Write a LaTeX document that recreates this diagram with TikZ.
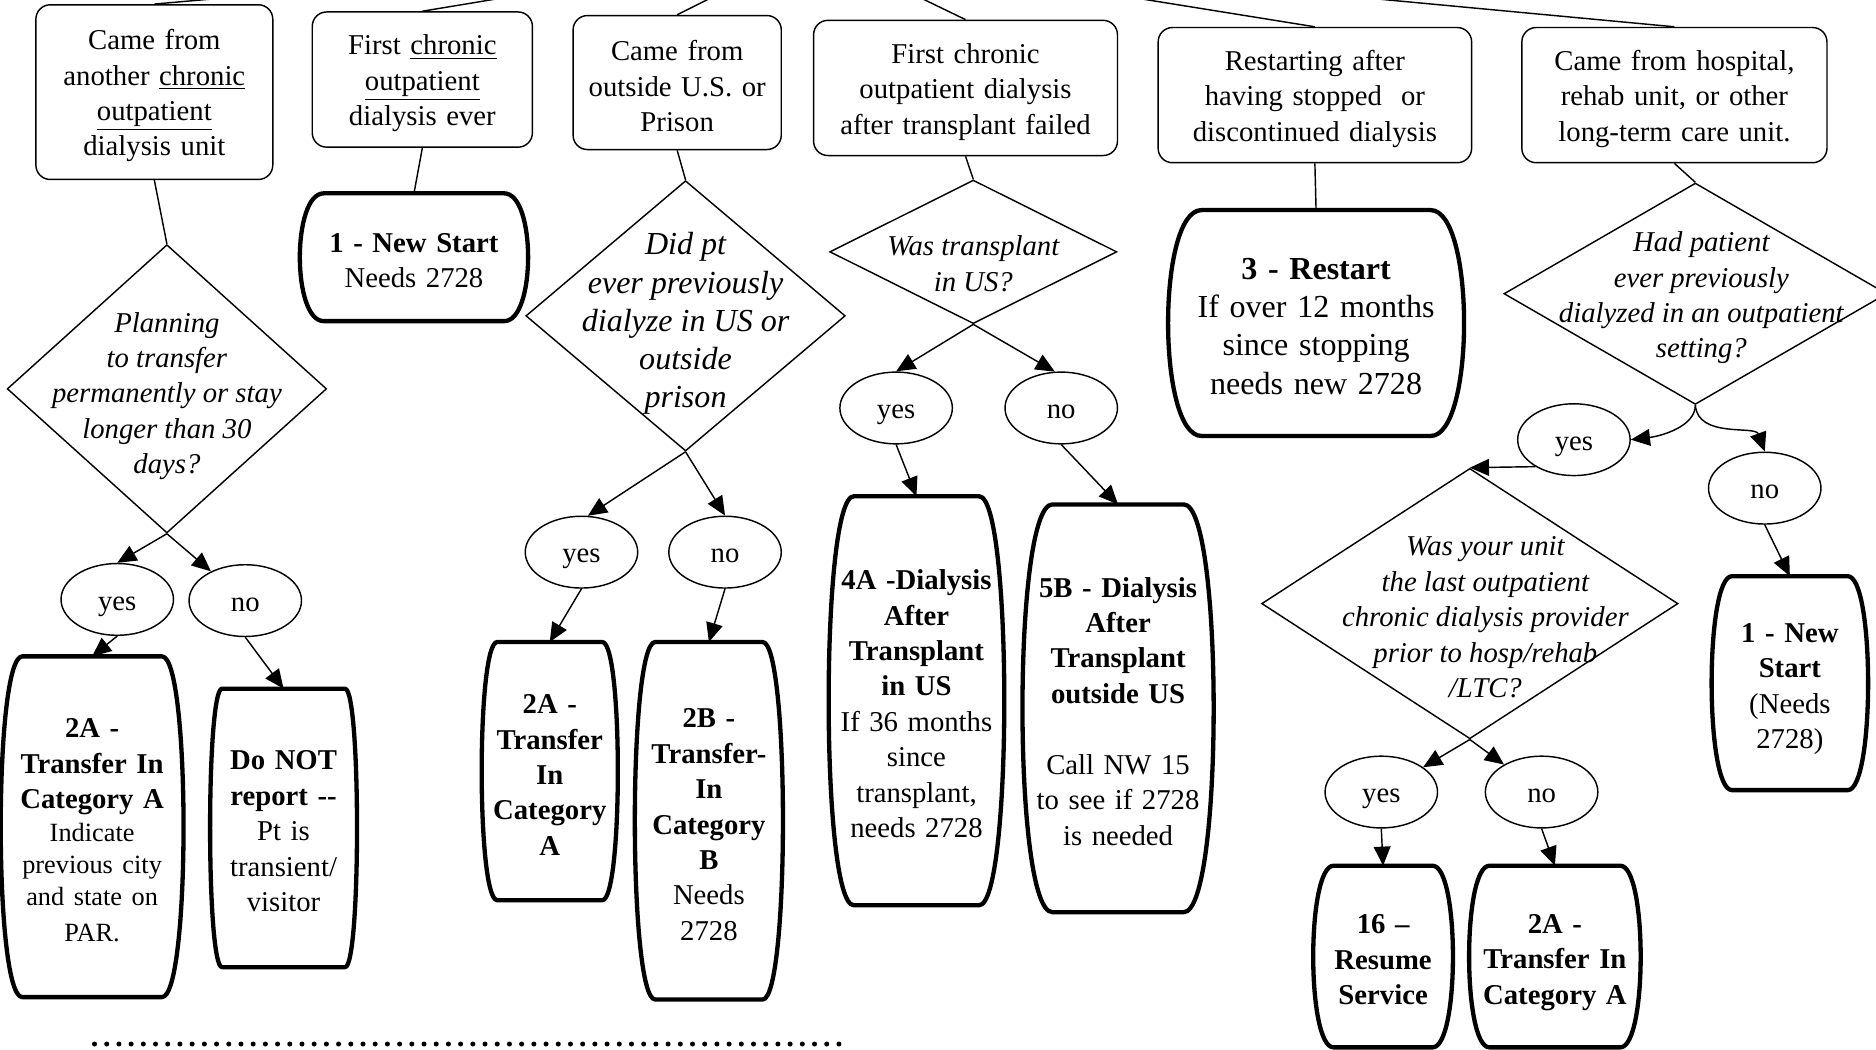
\documentclass[tikz,border=0pt]{standalone}
\usepackage{fontspec}
\setmainfont{Liberation Serif}
\usetikzlibrary{%
  positioning,
  calc,
  shapes.geometric,
  arrows.meta,
}

% barrel outline round a finished outcome node
\newcommand{\barrel}[2]{%
  \draw[barrelline]
    ($(#1.north east)+(-#2,0)$)
      .. controls ($(#1.north east)+(#2/3,0)$) and ($(#1.south east)+(#2/3,0)$) ..
    ($(#1.south east)+(-#2,0)$) -- ($(#1.south west)+(#2,0)$)
      .. controls ($(#1.south west)+(-#2/3,0)$) and ($(#1.north west)+(-#2/3,0)$) ..
    ($(#1.north west)+(#2,0)$) -- cycle;}

\begin{document}
\begin{tikzpicture}[%
           x=0.5pt, y=-0.5pt,
           font=\fontsize{12}{14.8}\selectfont,
           drop/.style={
             % a taller first line pushes the text down a little
             execute at begin node={\rule{0pt}{#1}},
           },
           source/.style={
             % The shape:
             rectangle, rounded corners=6pt,
             % The size:
             minimum width=#1, text width=#1,
             % The border:
             draw, line width=0.6pt,
             inner sep=0pt, align=center,
             drop=11.5pt,
           },
           decision/.style={
             diamond, draw, line width=0.6pt,
             inner sep=0pt,
           },
           question/.style={
             font=\fontsize{12}{14.8}\selectfont\itshape,
             align=center, inner sep=0pt,
           },
           answer/.style={
             ellipse, draw, line width=0.6pt,
             minimum width=47pt, minimum height=30pt,
             text height=11pt, text depth=2.1pt,
             inner sep=0pt,
           },
           outcome/.style={
             % only the text, the outline comes from \barrel
             rectangle, inner sep=0pt, align=center,
             minimum width=#1, text width=#1,
             drop=10.8pt,
           },
           barrelline/.style={
             line width=1.8pt,
             line join=round,
           },
           link/.style={
             line width=0.6pt,
           },
           flow/.style={
             -{Triangle[length=8pt,width=7pt]},
             line width=0.6pt,
           },
           dots/.style={
             line width=2.1pt,
             line cap=round,
             dash pattern=on 0pt off 5.1pt,
           }]

         \useasboundingbox (0,0) rectangle (1568,877.6);
         \clip (0,0) rectangle (1568,877.6);

         % where the top row comes from (above the page)
         \coordinate (root) at (680,-45);

         % top row
         \node[source=99pt, minimum height=73pt] (came) at (129,77) {Came from\\another \underline{chronic}\\\underline{outpatient}\\dialysis unit};
         \node[source=92pt, minimum height=56.5pt] (first) at (353,66.5) {First \underline{chronic}\\\underline{outpatient}\\dialysis ever};
         \node[source=87pt, minimum height=56pt] (abroad) at (566,69) {Came from\\outside U.S. or\\Prison};
         \node[source=127pt, minimum height=56.5pt] (failed) at (807,73.5) {First chronic\\outpatient dialysis\\after transplant failed};
         \node[source=131pt, minimum height=56.5pt] (stopped) at (1099,79.5) {Restarting after\\having stopped\ \ or\\discontinued dialysis};
         \node[source=127.5pt, minimum height=56.5pt] (hospital) at (1399.5,79.5) {Came from hospital,\\rehab unit, or other\\long-term care unit.};

         % questions
         \node[decision, minimum width=133.5pt, minimum height=120.5pt,
               label={[question, name=plan text, yshift=-3pt]center:{Planning\\to transfer\\permanently or stay\\longer than 30\\days?}}] (plan) at (139.5,325) {};
         \node[decision, minimum width=133.5pt, minimum height=113pt,
               label={[question, name=prior text, yshift=-3.25pt, font=\fontsize{13.4}{16}\selectfont\itshape]center:{Did pt\\ever previously\\dialyze in US or\\outside\\prison}}] (prior) at (573,264) {};
         \node[decision, minimum width=120pt, minimum height=60pt,
               label={[question, name=graft text, yshift=-5pt]center:{Was transplant\\in US?}}] (graft) at (813.5,210.5) {};
         \node[decision, minimum width=160pt, minimum height=92.5pt,
               label={[question, name=before text, xshift=2.5pt, yshift=-1.75pt]center:{Had patient\\ever previously\\dialyzed in an outpatient\\setting?}}] (before) at (1417,245.5) {};
         \node[decision, minimum width=174pt, minimum height=113pt,
               label={[question, name=lastunit text, xshift=6.5pt, yshift=-5.75pt]center:{Was your unit\\the last outpatient\\chronic dialysis provider\\prior to hosp/rehab\\/LTC?}}] (lastunit) at (1228.5,504.5) {};

         % answers
         \node[answer] (yes1) at (98,501) {yes};
         \node[answer] (no1) at (205,502) {no};
         \node[answer] (yes3) at (486,461.5) {yes};
         \node[answer] (no3) at (606,461.5) {no};
         \node[answer] (yes4) at (749,341) {yes};
         \node[answer] (no4) at (887,341) {no};
         \node[answer] (yes6) at (1315.5,367.5) {yes};
         \node[answer] (no6) at (1475,408) {no};
         \node[answer] (yes7) at (1154.5,662) {yes};
         \node[answer] (no7) at (1288.5,662) {no};

         % outcomes
         \node[outcome=76pt, minimum height=142pt] (xferA) at (77,691)
           {{\bfseries 2A -\\Transfer In\\Category A\par}\fontsize{11}{13.5}\selectfont Indicate\\previous city\\and state on\\PAR.};
         \node[outcome=61pt, minimum height=116pt] (notrep) at (237,692)
           {\textbf{Do NOT\\report {-}{-}}\\Pt is\\transient/\\visitor};
         \node[outcome=95pt, minimum height=53pt] (newA) at (346,215)
           {\textbf{1 - New Start}\\Needs 2728};
         \node[outcome=56.5pt, minimum height=107.5pt, drop=11.2pt] (xferA2) at (459.5,644.5)
           {\textbf{2A -\\Transfer\\In\\Category\\A}};
         \node[outcome=61.5pt, minimum height=149pt, drop=11.2pt] (xferB) at (592.5,686)
           {\textbf{2B -\\Transfer-\\In\\Category\\B}\\Needs\\2728};
         \node[outcome=73pt, minimum height=170.5pt] (graftus) at (766,585.7)
           {\textbf{4A -Dialysis\\After\\Transplant\\in US}\\If 36 months\\since\\transplant,\\needs 2728};
         \node[outcome=79.5pt, minimum height=170pt, drop=10pt] (graftabroad) at (934.5,592)
           {\textbf{5B - Dialysis\\After\\Transplant\\outside US}\\[14.8pt]Call NW 15\\to see if 2728\\is needed};
         \node[outcome=123.3pt, minimum height=94pt, drop=11.6pt,
               font=\fontsize{13.4}{16}\selectfont] (restart) at (1100,270)
           {\textbf{3 - Restart}\\If over 12 months\\since stopping\\needs new 2728};
         \node[outcome=65pt, minimum height=89pt, drop=13pt] (newB) at (1496,571)
           {\textbf{1 - New\\Start}\\(Needs\\2728)};
         \node[outcome=58pt, minimum height=75.5pt, drop=10pt] (resume) at (1156,799.5)
           {\textbf{16 –\\Resume\\Service}};
         \node[outcome=71.3pt, minimum height=75.5pt, drop=13pt] (xferA3) at (1299.6,799.5)
           {\textbf{2A -\\Transfer In\\Category A}};

         \foreach \nd/\cut in {xferA/18, notrep/10, newA/20, xferA2/13, xferB/17, graftus/21,
                               graftabroad/25, restart/28, newB/17, resume/17, xferA3/17}
           {\barrel{\nd}{\cut}}

         % lines from the top row
         \foreach \src in {came, first, abroad, failed, stopped, hospital}
           \draw[link] (\src.north) -- (root);
         \draw[link] (came.south) -- (plan.north);
         \draw[link] (first.south) -- (newA.north);
         \draw[link] (abroad.south) -- (prior.north);
         \draw[link] (failed.south) -- (graft.north);
         \draw[link] (stopped.south) -- (restart.north);
         \draw[link] (hospital.south) -- (before.north);

         % arrows
         \draw[flow] (plan.south) -- (yes1.north);
         \draw[flow] (plan.south) -- (no1);
         \draw[flow] (yes1.south) -- (xferA.north);
         \draw[flow] (no1.south) -- (notrep.north);
         \draw[flow] (prior.south) -- (yes3.80);
         \draw[flow] (prior.south) -- (no3.north);
         \draw[flow] (yes3.south) -- (xferA2.north);
         \draw[flow] (no3.south) -- (xferB.north);
         \draw[flow] (graft.south) -- (yes4.north);
         \draw[flow] (graft.south) -- (no4.100);
         \draw[flow] (yes4.south) -- (graftus.north);
         \draw[flow] (no4.south) -- (graftabroad.north);
         \draw[flow] (before.south) .. controls +(0,18) and +(25,-3) .. (yes6.east);
         \draw[flow] (before.south) .. controls +(2,28) and +(-8,-22) .. (no6.north);
         \draw[flow] (yes6.215) -- (lastunit.north);
         \draw[flow] (no6.south) -- (newB.north);
         \draw[flow] (lastunit.south) -- (yes7);
         \draw[flow] (lastunit.south) -- (no7);
         \draw[flow] (yes7.south) -- (resume.north);
         \draw[flow] (no7.south) -- (xferA3.north);

         % dotted rule under the left half
         \coordinate (rule start) at (79,872.6);
         \coordinate (rule end) at (706,872.6);
         \draw[dots] (rule start) -- (rule end);
       \end{tikzpicture}
\end{document}
